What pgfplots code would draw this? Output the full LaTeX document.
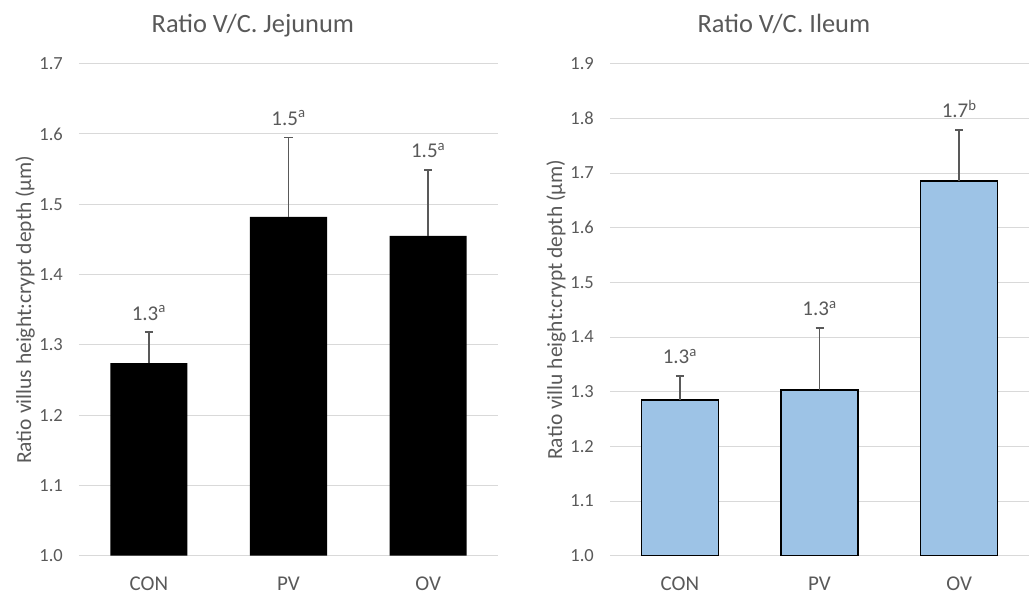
\documentclass[border=0pt]{standalone}
\usepackage{pgfplots}
\usepackage{pgfplotstable}
\pgfplotsset{compat=1.18}
\usepackage{fontspec}
\setmainfont{Carlito}
\definecolor{txt}{HTML}{595959}
\definecolor{gridc}{HTML}{D9D9D9}
\definecolor{bluebar}{HTML}{9DC3E6}

\pgfplotstableread{
x y e lab
0 1.274 0.044 1.3\textsuperscript{a}
1 1.482 0.113 1.5\textsuperscript{a}
2 1.455 0.094 1.5\textsuperscript{a}
}\jejunum
\pgfplotstableread{
x y e lab
0 1.285 0.044 1.3\textsuperscript{a}
1 1.303 0.114 1.3\textsuperscript{a}
2 1.685 0.094 1.7\textsuperscript{b}
}\ileum

\pgfplotsset{
  panel/.style={
    scale only axis, width=419pt, height=492pt,
    xmin=-0.5, xmax=2.5, ymin=1.0,
    xtick={0,1,2}, xticklabels={CON,PV,OV},
    axis line style={draw=none}, major tick length=0pt,
    ymajorgrids, grid style={gridc, line width=1pt},
    yticklabel style={text=txt, anchor=east, inner sep=0pt, xshift=-16pt,
      font=\fontsize{18.5}{20}\selectfont,
      /pgf/number format/fixed, /pgf/number format/fixed zerofill,
      /pgf/number format/precision=1, /pgf/number format/assume math mode=true},
    xticklabel style={text=txt, anchor=north, inner sep=0pt, yshift=-21pt,
      font=\fontsize{21}{24}\selectfont},
    title style={at={([yshift=25pt]rel axis cs:0.415,1)}, anchor=base,
      text=txt, font=\fontsize{26.4}{30}\selectfont},
    ylabel style={at={([xshift=-54pt]rel axis cs:0,0.5)}, anchor=center,
      text=txt, font=\fontsize{21.5}{24}\selectfont},
    ylabel={Ratio villus height:crypt depth (µm)},
  },
  errs/.style={error bars/.cd, y dir=plus, y explicit,
    error bar style={txt, line width=1.8pt},
    error mark=-, error mark options={txt, line width=1.6pt, mark size=4pt, rotate=90}},
  labs/.style={draw=none, nodes near coords, point meta=explicit symbolic,
    nodes near coords style={anchor=base, yshift=12pt, text=txt,
      font=\fontsize{21}{24}\selectfont}},
}

\begin{document}
\begin{tikzpicture}
\useasboundingbox (-79pt,-38.3pt) rectangle (954pt,555.7pt);
\begin{axis}[panel, ymax=1.7, ytick={1.0,1.1,1.2,1.3,1.4,1.5,1.6,1.7},
  title={Ratio V/C. Jejunum}]
\addplot[ybar, bar width=77pt, bar shift=0pt, fill=black, draw=none, errs]
  table[x=x, y=y, y error=e] {\jejunum};
\addplot[labs] table[x=x, y expr=\thisrow{y}+\thisrow{e}, meta=lab] {\jejunum};
\end{axis}
\begin{axis}[panel, at={(531pt,0pt)}, ymax=1.9,
  ytick={1.0,1.1,1.2,1.3,1.4,1.5,1.6,1.7,1.8,1.9},
  title={Ratio V/C. Ileum}, ylabel={Ratio villu height:crypt depth (µm)}]
\addplot[ybar, bar width=77pt, bar shift=0pt, fill=bluebar, draw=black, line width=1.5pt, errs]
  table[x=x, y=y, y error=e] {\ileum};
\addplot[labs] table[x=x, y expr=\thisrow{y}+\thisrow{e}, meta=lab] {\ileum};
\end{axis}
\end{tikzpicture}
\end{document}
